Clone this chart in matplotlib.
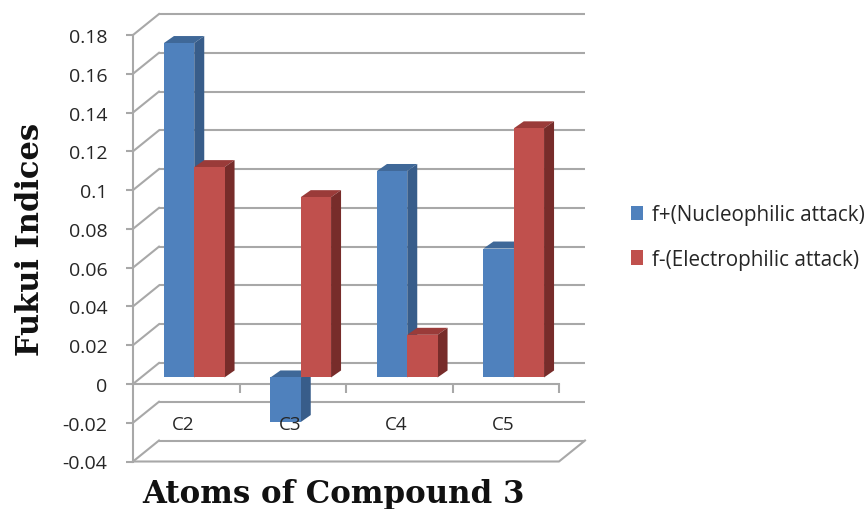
import numpy as np
import matplotlib
matplotlib.use("Agg")
import matplotlib.pyplot as plt
from matplotlib.patches import Polygon

categories = ["C2", "C3", "C4", "C5"]
f_plus = [0.1725, -0.023, 0.1065, 0.0665]
f_minus = [0.1085, 0.093, 0.022, 0.1285]
y_ticks = [-0.04, -0.02, 0, 0.02, 0.04, 0.06, 0.08, 0.1, 0.12, 0.14, 0.16, 0.18]
y_labels = ["-0.04", "-0.02", "0", "0.02", "0.04", "0.06", "0.08", "0.1", "0.12", "0.14", "0.16", "0.18"]
series_names = ["f+(Nucleophilic attack)", "f-(Electrophilic attack)"]

W, H = 867, 510
L, R, T, B = 133, 559, 36, 462.5
fig = plt.figure(figsize=(W / 100, H / 100), dpi=100, facecolor="white")
ax = fig.add_axes([L / W, 1 - B / H, (R - L) / W, (B - T) / H])
ax.set_xlim(0, 4)
ax.set_ylim(-0.04, 0.18)
px_x = 4 / (R - L)
px_y = 0.22 / (B - T)

GRID = "#a8a8a8"
TXT = "#262626"
LW = 1.5
back_x, back_y = 26 * px_x, 21 * px_y
plane_x, plane_y = 8 * px_x, 6.5 * px_y
depth_x, depth_y = 10 * px_x, 7 * px_y

# walls
ax.hlines(np.array(y_ticks) + back_y, back_x, 4 + back_x, color=GRID, lw=LW, clip_on=False, zorder=1)
for v in y_ticks:
    ax.plot([0, back_x], [v, v + back_y], color=GRID, lw=LW, clip_on=False, zorder=1)
ax.plot([0, 4, 4 + back_x], [-0.04, -0.04, -0.04 + back_y], color=GRID, lw=LW, clip_on=False, zorder=1)

# axes
for s in ("top", "right"):
    ax.spines[s].set_visible(False)
ax.spines["bottom"].set_position(("data", 0))
for s in ("left", "bottom"):
    ax.spines[s].set_color(GRID)
    ax.spines[s].set_linewidth(LW)
    ax.spines[s].set_zorder(1.5)
ax.patch.set_alpha(0)
ax.set_axisbelow(True)
ax.set_yticks(y_ticks)
ax.set_yticklabels(y_labels, fontsize=14, color=TXT, family="Open Sans")
ax.tick_params(axis="y", length=5, width=LW, color=GRID, pad=13.5)
ax.set_xticks([1, 2, 3, 4])
ax.set_xticklabels([])
ax.tick_params(axis="x", length=6.5, width=LW, color=GRID)

# bars
xpos = np.arange(len(categories)) + 0.5 + plane_x
width = 30.3 * px_x
styles = [("#4f81bd", "#385d8a", "#3f6898"), ("#c0504d", "#772c2a", "#9a3b39")]
handles = []
z = 3
for i in range(len(categories)):
    for j, vals in enumerate((f_plus, f_minus)):
        v = vals[i]
        front, side, top = styles[j]
        x0 = xpos[i] + (j - 1) * width
        x1 = x0 + width
        y_hi = max(v, 0) + plane_y
        y_lo = min(v, 0) + plane_y
        ax.add_patch(Polygon([(x0, y_hi), (x1, y_hi), (x1 + depth_x, y_hi + depth_y), (x0 + depth_x, y_hi + depth_y)],
                             fc=top, ec="none", clip_on=False, zorder=z))
        ax.add_patch(Polygon([(x1, y_lo), (x1, y_hi), (x1 + depth_x, y_hi + depth_y), (x1 + depth_x, y_lo + depth_y)],
                             fc=side, ec="none", clip_on=False, zorder=z))
        b = ax.bar(x0, v, width, bottom=plane_y, align="edge", color=front, clip_on=False, zorder=z + 0.5,
                   label=series_names[j] if i == 0 else None)
        if i == 0:
            handles.append(b)
        z += 1

# category labels
for i, c in enumerate(categories):
    ax.text(i + 0.5 - 3 * px_x, -0.0205, c, ha="center", va="center", fontsize=13.5, color=TXT,
            family="Open Sans", zorder=50)

fig.text(31 / W, 1 - 239 / H, "Fukui Indices", rotation=90, ha="center", va="center",
         fontsize=22, fontweight="bold", family="DejaVu Serif", color="#111111")
fig.text(334 / W, 1 - 495 / H, "Atoms of Compound 3", ha="center", va="center",
         fontsize=22.2, fontweight="bold", family="DejaVu Serif", color="#111111")

ax.legend(handles=handles, labels=series_names, loc="center left", bbox_to_anchor=(631 / W, 1 - 238 / H),
          bbox_transform=fig.transFigure, frameon=False, handlelength=0.6, handleheight=0.7,
          handletextpad=0.4, labelspacing=1.12, borderpad=0, borderaxespad=0, labelcolor=TXT,
          prop={"family": "Open Sans", "size": 14.9})

fig.savefig("out.png", dpi=100)
